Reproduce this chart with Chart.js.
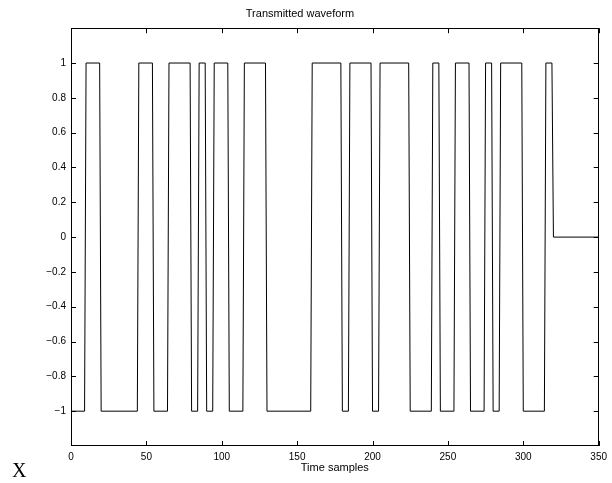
<!DOCTYPE html>
<html>
<head>
<meta charset="utf-8">
<script src="https://cdn.jsdelivr.net/npm/chart.js@4/dist/chart.umd.min.js"></script>
<style>
    html, body { margin: 0; padding: 0; background: #fff; }
    #wrap { width: 612px; height: 483px; position: relative; }
</style>
</head>
<body>
<div id="wrap"><canvas id="waveChart"></canvas></div>
<script>
// corner points of the waveform (sample index, level)
const cornerTimes = [
    0, 9, 10, 19, 20, 44, 45, 54, 55, 64, 65, 79, 80, 84, 85, 89, 90, 94,
    95, 104, 105, 114, 115, 129, 130, 159, 160, 179, 180, 184, 185, 199,
    200, 204, 205, 224, 225, 239, 240, 244, 245, 254, 255, 264, 265, 274,
    275, 279, 280, 284, 285, 299, 300, 314, 315, 319, 320, 350
];
const cornerLevels = [
    -1, -1, 1, 1, -1, -1, 1, 1, -1, -1, 1, 1, -1, -1, 1, 1, -1, -1,
    1, 1, -1, -1, 1, 1, -1, -1, 1, 1, -1, -1, 1, 1,
    -1, -1, 1, 1, -1, -1, 1, 1, -1, -1, 1, 1, -1, -1,
    1, 1, -1, -1, 1, 1, -1, -1, 1, 1, 0, 0
];

const xTicks = [0, 50, 100, 150, 200, 250, 300, 350];
const yTicks = [-1, -0.8, -0.6, -0.4, -0.2, 0, 0.2, 0.4, 0.6, 0.8, 1];

const chartTitle = 'Transmitted waveform';
const xTitle = 'Time samples';
const cornerMark = 'X';

const FONT = '"Liberation Sans", Arial, Helvetica, sans-serif';

function fmt(v) {
    const s = String(Math.round(v * 10) / 10);
    return s.replace('-', '\u2212');
}

// box round the plot, inward ticks on all four sides, and the stray X
const boxPlugin = {
    id: 'box',
    afterDraw(chart) {
        const ctx = chart.ctx;
        const a = chart.chartArea;
        const xs = chart.scales.x;
        const ys = chart.scales.y;
        const len = 5;
        ctx.save();
        ctx.strokeStyle = '#000';
        ctx.lineWidth = 1;
        ctx.strokeRect(Math.round(a.left) + 0.5, Math.round(a.top) + 0.5,
            Math.round(a.right - a.left) - 1, Math.round(a.bottom - a.top) - 1);
        ctx.beginPath();
        xTicks.forEach(t => {
            const px = Math.round(xs.getPixelForValue(t)) + 0.5;
            ctx.moveTo(px, a.bottom);
            ctx.lineTo(px, a.bottom - len);
            ctx.moveTo(px, a.top);
            ctx.lineTo(px, a.top + len);
        });
        yTicks.forEach(t => {
            const py = Math.round(ys.getPixelForValue(t)) + 0.5;
            ctx.moveTo(a.left, py);
            ctx.lineTo(a.left + len, py);
            ctx.moveTo(a.right, py);
            ctx.lineTo(a.right - len, py);
        });
        ctx.stroke();

        ctx.fillStyle = '#000';
        ctx.font = '20px "Liberation Serif", "Times New Roman", serif';
        ctx.textAlign = 'left';
        ctx.textBaseline = 'alphabetic';
        ctx.fillText(cornerMark, 12, 477);
        ctx.restore();
    }
};

const ctx = document.getElementById('waveChart').getContext('2d');
const chart = new Chart(ctx, {
    type: 'line',
    data: {
        datasets: [{
            label: chartTitle,
            data: cornerTimes.map((t, i) => ({ x: t, y: cornerLevels[i] })),
            borderColor: '#000',
            borderWidth: 1,
            pointRadius: 0,
            fill: false,
            tension: 0
        }]
    },
    options: {
        responsive: true,
        maintainAspectRatio: false,
        animation: false,
        layout: {
            padding: { left: 0, right: 12, top: 0, bottom: 0 }
        },
        plugins: {
            legend: { display: false },
            tooltip: { enabled: false },
            title: {
                display: true,
                text: chartTitle,
                color: '#000',
                font: { family: FONT, size: 11, weight: 'normal' },
                padding: { top: 7, bottom: 8 }
            }
        },
        scales: {
            x: {
                type: 'linear',
                min: 0,
                max: 350,
                afterBuildTicks: s => { s.ticks = xTicks.map(v => ({ value: v })); },
                afterFit: s => { s.height = 37; },
                grid: { display: false, drawTicks: false },
                border: { display: false },
                ticks: {
                    color: '#000',
                    font: { family: FONT, size: 10 },
                    padding: 5,
                    maxRotation: 0,
                    autoSkip: false,
                    callback: v => fmt(v)
                },
                title: {
                    display: true,
                    text: xTitle,
                    color: '#000',
                    font: { family: FONT, size: 11 },
                    padding: { top: 0, bottom: 8 }
                }
            },
            y: {
                type: 'linear',
                min: -1.2,
                max: 1.2,
                afterBuildTicks: s => { s.ticks = yTicks.map(v => ({ value: v })); },
                afterFit: s => { s.width = 71; },
                grid: { display: false, drawTicks: false },
                border: { display: false },
                ticks: {
                    color: '#000',
                    font: { family: FONT, size: 10 },
                    padding: 5,
                    autoSkip: false,
                    callback: v => fmt(v)
                }
            }
        }
    },
    plugins: [boxPlugin]
});
</script>
</body>
</html>
